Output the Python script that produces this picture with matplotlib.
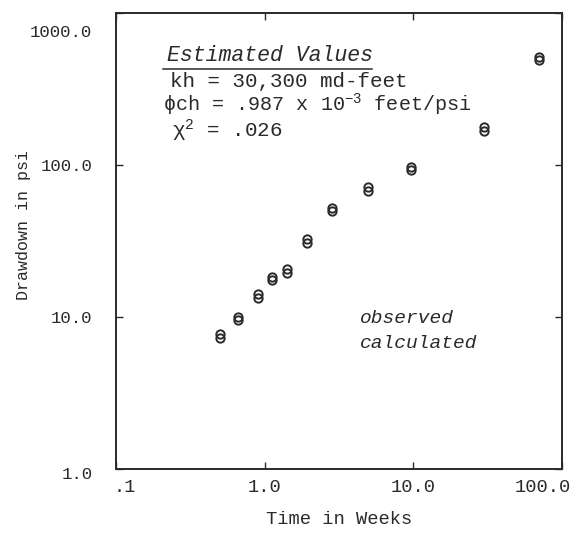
import numpy as np
import matplotlib
matplotlib.use("Agg")
import matplotlib.pyplot as plt
from matplotlib.transforms import ScaledTranslation

plt.rcParams['font.family'] = ['Liberation Mono', 'DejaVu Sans Mono']
plt.rcParams['mathtext.fontset'] = 'custom'
plt.rcParams['mathtext.rm'] = 'Liberation Mono'
plt.rcParams['mathtext.it'] = 'Liberation Mono:italic'

# drawdown data (weeks, psi)
weeks = [0.50, 0.66, 0.90, 1.12, 1.41, 1.94, 2.84, 4.97, 9.7, 30.0, 70.0]
observed = [7.3, 9.5, 13.4, 17.4, 19.6, 30.8, 49.8, 67.8, 92.0, 168.0, 490.0]
calculated = [7.7, 10.0, 14.1, 18.3, 20.6, 32.4, 52.3, 71.2, 96.6, 177.0, 515.0]

x_ticks = [0.1, 1.0, 10.0, 100.0]
x_labels = [".1", "1.0", "10.0", "100.0"]
y_ticks = [1.0, 10.0, 100.0, 1000.0]
y_labels = ["1.0", "10.0", "100.0", "1000.0"]

ink = '#2a2a2a'

fig = plt.figure(figsize=(5.79, 5.35), dpi=100)
ax = fig.add_axes([0.2003, 0.1234, 0.7703, 0.8523])
ax.set_xscale('log')
ax.set_yscale('log')
ax.set_xlim(0.1, 100)
ax.set_ylim(1, 1000)

mk = dict(marker='o', linestyle='none', markersize=6, mfc='none', mec=ink, mew=1.4)
ax.plot(weeks, observed, **mk)
ax.plot(weeks, calculated, **mk)

ax.set_xticks(x_ticks)
ax.set_xticklabels(x_labels)
ax.set_yticks(y_ticks)
ax.set_yticklabels(y_labels)
ax.minorticks_off()
ax.tick_params(direction='in', length=5, width=1, color=ink,
               top=True, right=True, labelcolor=ink)
ax.tick_params(axis='x', pad=7, labelsize=13.5)
ax.tick_params(axis='y', pad=17, labelsize=12.5)

for s in ax.spines.values():
    s.set_linewidth(1.4)
    s.set_color(ink)

# nudge the end labels the way they were typed
def shift(lbl, dx, dy):
    lbl.set_transform(lbl.get_transform() + ScaledTranslation(dx / 72, dy / 72, fig.dpi_scale_trans))

xl = ax.get_xticklabels()
shift(xl[0], 6, 0)
shift(xl[-1], -14, 0)
yl = ax.get_yticklabels()
shift(yl[-1], 0, -13)
shift(yl[0], 0, -3)

ax.set_xlabel("Time in Weeks", fontsize=13.5, color=ink, labelpad=11)
ax.set_ylabel("Drawdown in psi", fontsize=12, color=ink)
ax.yaxis.set_label_coords(-0.19, 0.535)

# estimated values block
ax.text(0.114, 0.906, "Estimated Values", style='italic', fontsize=15.5,
        color=ink, transform=ax.transAxes, va='center')
ax.plot([0.105, 0.575], [0.877, 0.877], color=ink, lw=1.1,
        transform=ax.transAxes, clip_on=False)
ax.text(0.121, 0.849, "kh = 30,300 md-feet", fontsize=15, color=ink,
        transform=ax.transAxes, va='center')
ax.text(0.105, 0.798, "\u03d5ch = .987 x 10$^{-3}$ feet/psi", fontsize=14.5,
        color=ink, transform=ax.transAxes, va='center')
ax.text(0.126, 0.741, "\u03c7$^{2}$ = .026", fontsize=15, color=ink,
        transform=ax.transAxes, va='center')

# series names
ax.text(0.547, 0.331, "observed", style='italic', fontsize=14, color=ink,
        transform=ax.transAxes, va='center')
ax.text(0.547, 0.276, "calculated", style='italic', fontsize=14, color=ink,
        transform=ax.transAxes, va='center')

fig.savefig("out.png", dpi=100)
